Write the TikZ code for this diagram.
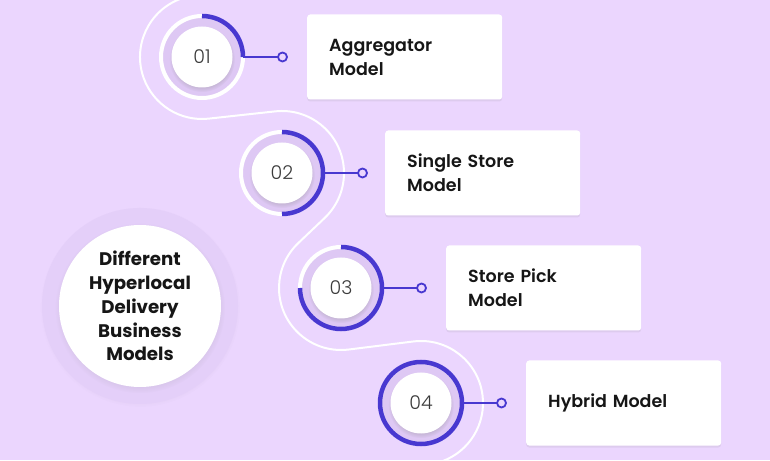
\documentclass[tikz,border=0pt]{standalone}
\usepackage{fontspec}
\setmainfont{Poppins}
\newfontfamily\numfont{Poppins Light}
\newfontfamily\medfont{Poppins SemiBold}
\usetikzlibrary{positioning,calc,shadows}

\definecolor{bgpurple}{RGB}{235,214,254}
\definecolor{ringshade}{RGB}{222,200,244}
\definecolor{hubshade}{RGB}{228,207,249}
\definecolor{progblue}{RGB}{72,56,208}
\definecolor{numgray}{RGB}{60,60,60}
\definecolor{labelblack}{RGB}{22,22,22}

\tikzset{
  ring/.style={circle, minimum size=82pt, inner sep=0pt, outer sep=0pt, draw=white, line width=4pt, fill=ringshade},
  disc/.style={circle, minimum size=61pt, inner sep=0pt, fill=white, text=numgray, font=\numfont\fontsize{19}{19}\selectfont,
    circular drop shadow={shadow xshift=0pt, shadow yshift=-2pt, shadow scale=1.08, opacity=0.25}},
  prog/.style={draw=progblue, line width=4.5pt},
  link/.style={draw=progblue, line width=1.6pt},
  dot/.style={circle, draw=progblue, line width=1.8pt, fill=bgpurple, minimum size=9pt, inner sep=0pt, outer sep=0pt},
  card/.style={fill=white, rounded corners=3pt, text width=151pt, inner xsep=22pt, minimum height=85pt, align=left,
    text=labelblack, font=\medfont\fontsize{17.5}{24}\selectfont,
    drop shadow={shadow xshift=0pt, shadow yshift=-2pt, opacity=0.12}},
  snake/.style={draw=white, line width=2pt}
}

\begin{document}
\begin{tikzpicture}[x=1pt, y=1pt]
\fill[bgpurple] (0, 0) rectangle (770, 460);
\useasboundingbox (0, 0) rectangle (770, 460);

% hub
\node[circle, minimum size=196pt, inner sep=0pt, fill=hubshade,
  circular drop shadow={shadow xshift=0pt, shadow yshift=-1pt, shadow scale=1.02, opacity=0.12}] (hubring) at (140, 154) {};
\node[circle, minimum size=162pt, inner sep=0pt, fill=white, align=center, text=labelblack,
  font=\bfseries\fontsize{18.2}{23.8}\selectfont,
  circular drop shadow={shadow xshift=0pt, shadow yshift=-2pt, shadow scale=1.05, opacity=0.2}] (hub) at (hubring)
  {Different\\Hyperlocal\\Delivery\\Business\\Models};

% steps
\node[ring] (r1) at (202, 403) {};
\node[ring] (r2) at (282, 287) {};
\node[ring] (r3) at (341, 172) {};
\node[ring] (r4) at (421, 57) {};

\draw[snake] ($(r1)+(110:62)$) arc[start angle=110, end angle=276.2, radius=62]
  -- ($(r2)+(96.2:62)$) arc[start angle=96.2, end angle=-46.3, radius=62]
  -- ($(r3)+(133.7:62)$) arc[start angle=133.7, end angle=277, radius=62]
  -- ($(r4)+(97:62)$) arc[start angle=97, end angle=-70, radius=62];

\node[disc] (n1) at (r1) {01};
\node[disc] (n2) at (r2) {02};
\node[disc] (n3) at (r3) {03};
\node[disc] (n4) at (r4) {04};

\draw[prog] (r1.north) arc[start angle=90, end angle=0, radius=41];
\draw[prog] (r2.north) arc[start angle=90, end angle=-90, radius=41];
\draw[prog] (r3.north) arc[start angle=90, end angle=-180, radius=41];
\draw[prog] (r4) circle[radius=41];

\node[dot, right=35pt of r1] (d1) {};
\node[dot, right=35pt of r2] (d2) {};
\node[dot, right=35pt of r3] (d3) {};
\node[dot, right=35pt of r4] (d4) {};

\draw[link] (r1.east) -- (d1);
\draw[link] (r2.east) -- (d2);
\draw[link] (r3.east) -- (d3);
\draw[link] (r4.east) -- (d4);

\node[card, right=20pt of d1] (b1) {Aggregator\\Model};
\node[card, right=18pt of d2] (b2) {Single Store\\Model};
\node[card, right=20pt of d3] (b3) {Store Pick\\Model};
\node[card, right=20pt of d4] (b4) {Hybrid Model};
\end{tikzpicture}
\end{document}
